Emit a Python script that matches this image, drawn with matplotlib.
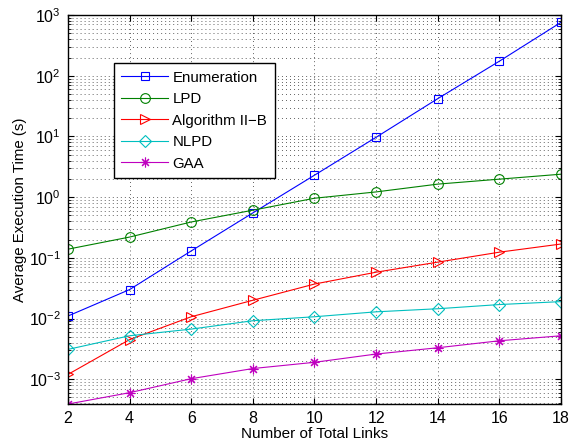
import numpy as np
import matplotlib
matplotlib.use('Agg')
import matplotlib.pyplot as plt
from matplotlib.ticker import FixedLocator, NullFormatter, LogFormatterSciNotation

plt.rcParams['font.family'] = ['Liberation Sans', 'DejaVu Sans']
plt.rcParams['mathtext.fontset'] = 'custom'
plt.rcParams['mathtext.rm'] = 'Liberation Sans'

links = [2, 4, 6, 8, 10, 12, 14, 16, 18]
enumeration = [0.011, 0.030, 0.13, 0.55, 2.3, 9.7, 42, 174, 760]
lpd = [0.139, 0.22, 0.39, 0.61, 0.96, 1.22, 1.64, 1.98, 2.39]
alg2b = [0.0012, 0.0045, 0.0107, 0.020, 0.037, 0.058, 0.085, 0.124, 0.169]
nlpd = [0.0031, 0.0052, 0.0067, 0.0092, 0.0107, 0.0129, 0.0145, 0.017, 0.019]
gaa = [0.00039, 0.0006, 0.00102, 0.0015, 0.0019, 0.0026, 0.0033, 0.0043, 0.0052]
decades = [1e-3, 1e-2, 1e-1, 1e0, 1e1, 1e2, 1e3]

fig = plt.figure(figsize=(5.71, 4.44), dpi=100)
ax = fig.add_axes([0.119, 0.090, 0.8635, 0.876])

kw = dict(mfc='none', lw=0.8, mew=0.8)
ax.semilogy(links, enumeration, '-s', color=(0, 0, 1), ms=5.6, label='Enumeration', **kw)
ax.semilogy(links, lpd, '-o', color=(0, 0.5, 0), ms=7, label='LPD', **kw)
ax.semilogy(links, alg2b, '->', color=(1, 0, 0), ms=7, label='Algorithm II\u2212B', **kw)
ax.semilogy(links, nlpd, '-D', color=(0, 0.75, 0.75), ms=6, label='NLPD', **kw)
ax.semilogy(links, gaa, '-', marker=(8, 2, 0), color=(0.75, 0, 0.75), ms=7, label='GAA', **kw)

ax.set_xlim(2, 18)
ax.set_ylim(gaa[0], 1e3)
ax.set_xticks(links)
minors = [m * d for d in [1e-4] + decades[:-1] for m in range(2, 10)]
minors = [v for v in minors if gaa[0] <= v <= 1e3]
ax.yaxis.set_major_locator(FixedLocator(decades))
ax.yaxis.set_major_formatter(LogFormatterSciNotation())
ax.yaxis.set_minor_locator(FixedLocator(minors))
ax.yaxis.set_minor_formatter(NullFormatter())

dots = (0, (1.4, 4.4))
ax.grid(True, which='major', ls=dots, color='0.15', lw=0.5)
ax.grid(True, axis='y', which='minor', ls=dots, color='0.15', lw=0.5)
ax.tick_params(which='both', direction='in', top=True, right=True, labelsize=11.5)
ax.tick_params(which='major', length=4, pad=5)
ax.tick_params(which='minor', length=2)
for s in ax.spines.values():
    s.set_linewidth(1.0)

ax.set_xlabel('Number of Total Links', fontsize=11, labelpad=1)
ax.set_ylabel('Average Execution Time (s)', fontsize=10.8, labelpad=1)

leg = ax.legend(loc='upper left', bbox_to_anchor=(0.0933, 0.8766), borderaxespad=0,
                fontsize=10.8, handlelength=3.1, fancybox=False, framealpha=1,
                edgecolor='k', borderpad=0.5, labelspacing=0.5, handletextpad=0.3)
leg.get_frame().set_linewidth(1.0)

fig.savefig('out.png', dpi=100)
